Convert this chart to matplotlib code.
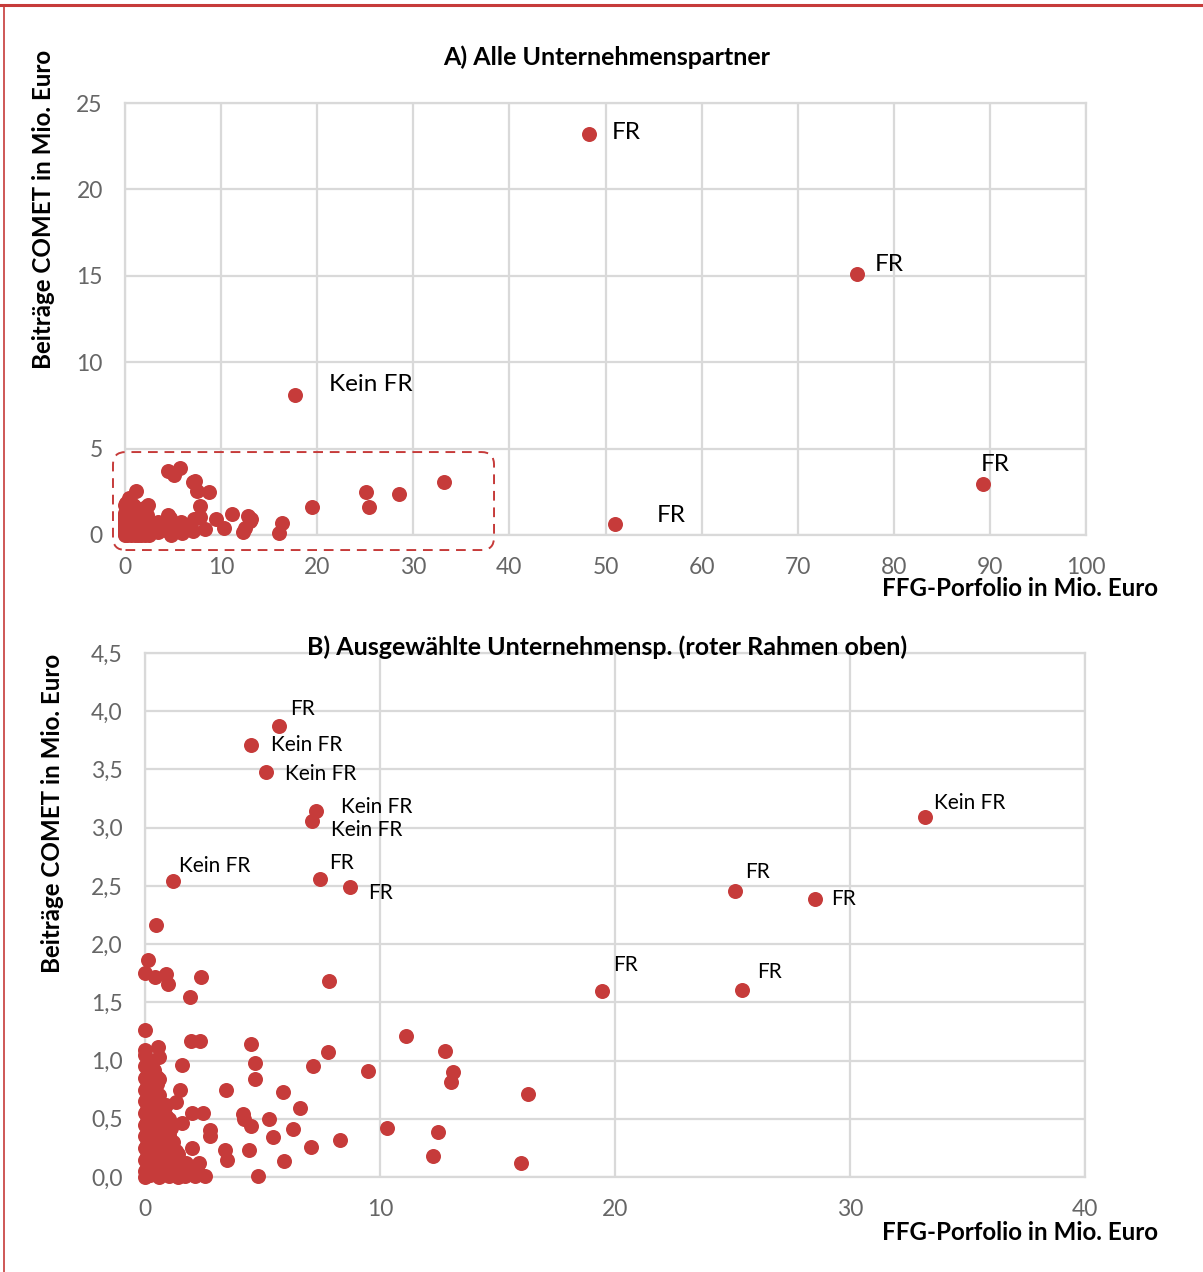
import matplotlib
matplotlib.use('Agg')
import matplotlib.pyplot as plt
from matplotlib.patches import FancyBboxPatch
from matplotlib.ticker import FuncFormatter

plt.rcParams['font.family'] = ['Lato', 'DejaVu Sans']

# Unternehmenspartner ohne Beschriftung (FFG-Portfolio, COMET-Beiträge in Mio. Euro)
partner_x = [
    # dichter Haufen nahe Null
    0.0, 0.0, 0.0, 0.0, 0.0, 0.0, 0.0, 0.0, 0.0, 0.0, 0.0, 0.0,
    0.1, 0.1, 0.1, 0.1, 0.1, 0.1, 0.1, 0.1, 0.1, 0.1,
    0.2, 0.2, 0.2, 0.2, 0.2, 0.2, 0.2, 0.2, 0.2, 0.2, 0.2,
    0.3, 0.3, 0.3, 0.3, 0.3, 0.3, 0.3,
    0.4, 0.4, 0.4, 0.4, 0.4, 0.4, 0.4, 0.4,
    0.5, 0.5, 0.5, 0.5, 0.5, 0.5, 0.5,
    0.6, 0.6, 0.6, 0.6, 0.6, 0.6, 0.6,
    0.7, 0.7, 0.7, 0.7, 0.7,
    0.8, 0.8, 0.8, 0.8, 0.8,
    0.9, 0.9, 0.9, 0.9,
    1.0, 1.0, 1.0, 1.0, 1.0,
    1.1, 1.1, 1.1,
    1.2, 1.2, 1.2,
    1.3, 1.3,
    1.4, 1.4, 1.4,
    1.1, 0.9, 0.3, 0.5,
    1.6, 1.9, 2.2, 1.75,
    # einzelne Punkte
    0.45, 0.11, 0.0, 0.43, 0.88, 0.97, 2.37, 1.93, 7.83, 0.01,
    1.94, 2.34, 4.5, 11.09, 12.78, 7.79, 0.55, 0.0, 0.61, 1.57,
    4.67, 7.16, 9.49, 13.1, 13.02, 4.69, 0.61, 1.5, 3.46, 5.86,
    16.3, 6.61, 1.32, 2.0, 2.45, 4.17, 4.21, 4.52, 5.29, 6.3,
    5.45, 2.77, 2.78, 1.57, 8.28, 10.31, 12.45, 12.27, 7.05, 2.01,
    3.4, 3.48, 4.43, 5.91, 4.81, 2.31, 2.54, 1.7, 2.13, 16.0,
    1.8, 1.55, 2.2,
]
partner_y = [
    1.05, 0.95, 0.85, 0.75, 0.65, 0.55, 0.45, 0.35, 0.25, 0.15, 0.05, 0.0,
    0.97, 0.88, 0.78, 0.68, 0.58, 0.48, 0.38, 0.28, 0.18, 0.08,
    1.0, 0.9, 0.8, 0.7, 0.6, 0.5, 0.4, 0.3, 0.2, 0.1, 0.02,
    0.9, 0.72, 0.55, 0.45, 0.33, 0.22, 0.07,
    0.92, 0.78, 0.62, 0.5, 0.38, 0.24, 0.12, 0.03,
    0.8, 0.66, 0.53, 0.41, 0.28, 0.16, 0.04,
    0.7, 0.58, 0.47, 0.33, 0.2, 0.08, 0.0,
    0.62, 0.52, 0.4, 0.25, 0.12,
    0.58, 0.44, 0.3, 0.16, 0.05,
    0.52, 0.38, 0.24, 0.1,
    0.5, 0.36, 0.22, 0.1, 0.01,
    0.3, 0.18, 0.06,
    0.3, 0.15, 0.04,
    0.22, 0.1,
    0.2, 0.08, 0.0,
    0.42, 0.62, 0.98, 0.86,
    0.1, 0.05, 0.04, 0.12,
    2.16, 1.86, 1.75, 1.72, 1.74, 1.66, 1.72, 1.55, 1.68, 1.26,
    1.17, 1.17, 1.14, 1.21, 1.08, 1.07, 1.12, 1.09, 1.03, 0.96,
    0.98, 0.95, 0.91, 0.90, 0.82, 0.84, 0.84, 0.75, 0.75, 0.73,
    0.71, 0.59, 0.64, 0.55, 0.55, 0.54, 0.50, 0.44, 0.50, 0.41,
    0.34, 0.40, 0.35, 0.46, 0.32, 0.42, 0.39, 0.18, 0.26, 0.25,
    0.23, 0.15, 0.23, 0.14, 0.01, 0.12, 0.01, 0.01, 0.01, 0.12,
    0.05, 0.03, 0.06,
]

# beschriftete Partner
label_x = [48.3, 76.2, 17.7, 89.3, 51.0,
           5.7, 4.5, 5.15, 7.28, 7.11, 1.19, 7.45, 8.72, 33.2, 25.1, 28.5, 19.45, 25.4]
label_y = [23.2, 15.1, 8.1, 2.95, 0.64,
           3.87, 3.71, 3.48, 3.14, 3.06, 2.54, 2.56, 2.49, 3.09, 2.46, 2.39, 1.60, 1.61]
label_text = ['FR', 'FR', 'Kein FR', 'FR', 'FR',
              'FR', 'Kein FR', 'Kein FR', 'Kein FR', 'Kein FR', 'Kein FR', 'FR', 'FR',
              'Kein FR', 'FR', 'FR', 'FR', 'FR']

# Textversatz in Pixeln (rechts, oben) je Beschriftung
label_offset = [(23, 2), (17, 10), (34, 11), (-2, 20), (42, 8),
                (11, 17), (20, 0), (19, -2), (25, 4), (19, -9), (6, 15), (9, 16), (18, -6),
                (9, 14), (10, 19), (16, 0), (11, 26), (15, 18)]

RED = '#C63B3A'
GRID = '#D9D9D9'
TICK = '#666666'

fig = plt.figure(figsize=(12.03, 12.72), dpi=100)


def style_axes(ax):
    ax.grid(True, color=GRID, linewidth=1.6)
    ax.set_axisbelow(True)
    for sp in ax.spines.values():
        sp.set_color(GRID)
        sp.set_linewidth(1.6)
    ax.tick_params(length=0, labelsize=16.5, labelcolor=TICK, pad=16)


def draw_points(ax, xmax, ymax, show_label, fontsize):
    xs = [x for x, y in zip(partner_x, partner_y) if x <= xmax and y <= ymax]
    ys = [y for x, y in zip(partner_x, partner_y) if x <= xmax and y <= ymax]
    ax.plot(xs, ys, 'o', color=RED, markersize=10.8, markeredgewidth=0, clip_on=False, zorder=3)
    for i in range(len(label_x)):
        x, y = label_x[i], label_y[i]
        if x > xmax or y > ymax:
            continue
        ax.plot(x, y, 'o', color=RED, markersize=10.8, markeredgewidth=0, clip_on=False, zorder=3)
        if show_label(x, y):
            ax.annotate(label_text[i], (x, y), xytext=label_offset[i], textcoords='offset pixels',
                        ha='left', va='center', fontsize=fontsize, color='black')


# A) alle Partner
ax1 = fig.add_axes([125 / 1203, 1 - 535 / 1272, 961 / 1203, 432 / 1272])
ax1.set_xlim(0, 100)
ax1.set_ylim(0, 25)
ax1.set_xticks(range(0, 101, 10))
ax1.set_yticks(range(0, 26, 5))
style_axes(ax1)
draw_points(ax1, 100, 25, lambda x, y: x > 40 or y > 4.5, 17.5)

# roter Rahmen um den Ausschnitt fuer B)
box = FancyBboxPatch((-1.25, -0.87), 39.65, 5.67,
                     boxstyle='round,pad=0,rounding_size=1.3', mutation_aspect=0.556,
                     fill=False, edgecolor=RED, linewidth=1.4, linestyle=(0, (5, 3.5)),
                     clip_on=False, zorder=4)
ax1.add_patch(box)

# B) Ausschnitt
ax2 = fig.add_axes([145 / 1203, 1 - 1177 / 1272, 940 / 1203, 524 / 1272])
ax2.set_xlim(0, 40)
ax2.set_ylim(0, 4.5)
ax2.set_xticks(range(0, 41, 10))
ax2.set_yticks([i * 0.5 for i in range(10)])
ax2.yaxis.set_major_formatter(FuncFormatter(lambda v, p: f'{v:.1f}'.replace('.', ',')))
style_axes(ax2)
draw_points(ax2, 40, 4.5, lambda x, y: True, 15)

# Titel und Achsenbeschriftungen
fig.text(607 / 1203, 1 - 57 / 1272, 'A) Alle Unternehmenspartner', ha='center', va='center',
         fontsize=18, fontweight='bold')
fig.text(607 / 1203, 1 - 647 / 1272, 'B) Ausgewählte Unternehmensp. (roter Rahmen oben)',
         ha='center', va='center', fontsize=18, fontweight='bold')
for yc in (588, 1232):
    fig.text(1158 / 1203, 1 - yc / 1272, 'FFG-Porfolio in Mio. Euro', ha='right', va='center',
             fontsize=17.4, fontweight='bold')
fig.text(44 / 1203, 1 - 209 / 1272, 'Beiträge COMET in Mio. Euro', rotation=90,
         ha='center', va='center', fontsize=17.4, fontweight='bold')
fig.text(53 / 1203, 1 - 813 / 1272, 'Beiträge COMET in Mio. Euro', rotation=90,
         ha='center', va='center', fontsize=17.4, fontweight='bold')

# Seitenrahmen
fig.add_artist(plt.Line2D([0, 1], [1 - 5 / 1272] * 2, color=RED, linewidth=2.2))
fig.add_artist(plt.Line2D([3.5 / 1203] * 2, [0, 1 - 5 / 1272], color=RED, linewidth=1.2))

fig.savefig('out.png', dpi=100)
